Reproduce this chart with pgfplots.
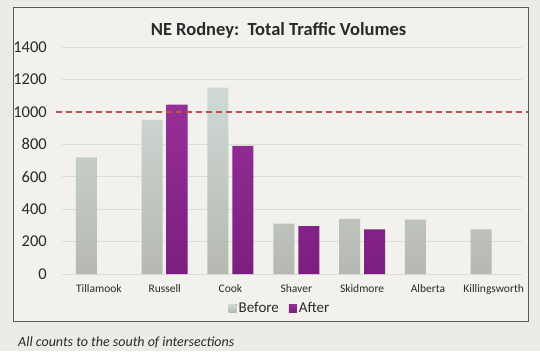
\documentclass[border=0pt]{standalone}
\usepackage{fontspec}
\setmainfont{Carlito}
\usepackage{pgfplots}
\pgfplotsset{compat=1.18}
\definecolor{bg}{HTML}{ECEBE5}
\definecolor{bginner}{HTML}{F2F1ED}
\definecolor{framecol}{HTML}{5A5A58}
\definecolor{gridcol}{HTML}{DCDCD8}
\definecolor{beforetop}{HTML}{CFD9D6}
\definecolor{beforebot}{HTML}{B6B9B1}
\definecolor{aftertop}{HTML}{962F98}
\definecolor{afterbot}{HTML}{7C1E80}
\definecolor{refred}{HTML}{C0504D}
\definecolor{txt}{HTML}{2A2A2A}
\begin{document}
\begin{tikzpicture}
\useasboundingbox (0pt,0pt) rectangle (540pt,351pt);
\fill[bg] (0pt,0pt) rectangle (540pt,351pt);
\fill[bginner] (13pt,30pt) rectangle (528pt,343pt);
\draw[framecol, line width=1pt] (13pt,30pt) rectangle (528pt,343pt);
\node[anchor=base, font=\fontsize{18.5}{21}\selectfont\bfseries, text=txt, inner sep=0pt] at (278.5pt,315pt) {NE Rodney:\ \ Total Traffic Volumes};
\node[anchor=base west, font=\fontsize{14}{16}\selectfont\itshape, text=txt, inner sep=0pt] at (18pt,4.5pt) {All counts to the south of intersections};
\begin{axis}[
  at={(62pt,77pt)}, anchor=south west, scale only axis,
  width=460pt, height=227pt,
  xmin=-0.56, xmax=6.43, ymin=0, ymax=1400,
  ytick={0,200,...,1400},
  xtick={0,...,6},
  xticklabels={Tillamook,Russell,Cook,Shaver,Skidmore,Alberta,Killingsworth},
  axis line style={draw=none},
  major tick length=0pt,
  ymajorgrids,
  grid style={gridcol, line width=0.8pt},
  ybar, bar width=21pt,
  /pgf/number format/assume math mode=true,
  /pgf/number format/1000 sep={},
  yticklabel style={font=\fontsize{16.5}{18}\selectfont, text=txt, inner sep=0pt, anchor=east, xshift=-15pt},
  xticklabel style={font=\fontsize{11.5}{13}\selectfont, text=txt, inner sep=0pt, anchor=base, yshift=-18pt},
  legend style={at={(0.474,-0.15)}, anchor=center, draw=none, fill=none,
    legend columns=2, font=\fontsize{15}{17}\selectfont, text=txt,
    /tikz/every even column/.append style={column sep=8pt}},
  legend image code/.code={\fill[#1, draw=none] (0pt,-4pt) rectangle (8pt,4pt);},
  clip=false,
]
\addplot[draw=none, top color=beforetop, bottom color=beforebot, bar shift=-12.5pt]
  coordinates {(0,720) (1,950) (2,1150) (3,310) (4,340) (5,335) (6,275)};
\addplot[draw=none, top color=aftertop, bottom color=afterbot, bar shift=12.5pt]
  coordinates {(1,1045) (2,790) (3,295) (4,275)};
\legend{Before,After}
\addplot[sharp plot, refred, line width=1.3pt, dash pattern=on 6pt off 4pt, forget plot]
  coordinates {(-0.65,1000) (6.52,1000)};
\end{axis}
\end{tikzpicture}
\end{document}
